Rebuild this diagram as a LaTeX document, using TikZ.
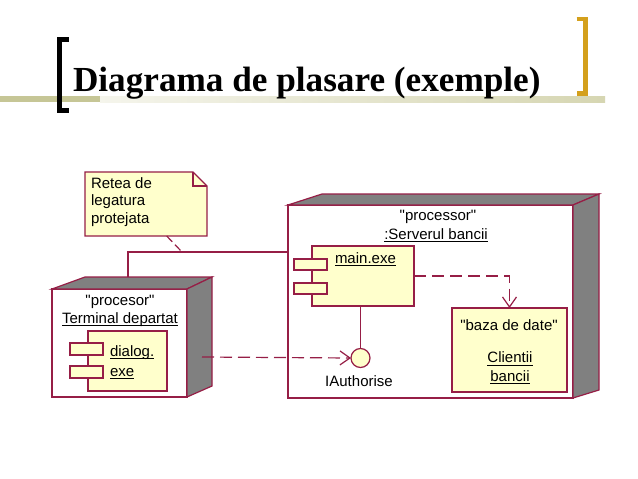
\documentclass[tikz,border=0pt]{standalone}
\usepackage{fontspec}
\setmainfont{Liberation Sans}
\newfontfamily\titlefont{Liberation Serif}
\usetikzlibrary{arrows.meta,calc}

\definecolor{edge}{RGB}{150,30,70}
\definecolor{paper}{RGB}{255,255,204}
\definecolor{side}{RGB}{128,128,128}
\definecolor{bardark}{RGB}{198,198,150}
\definecolor{barlight}{RGB}{214,214,178}
\definecolor{gold}{RGB}{212,160,28}

% straight double quote, taken from a font loaded without the TeX mapping
\font\straightq="Liberation Sans" at 15pt
\newcommand{\sq}{{\straightq\char34}}
% underlined text with a rule just below the baseline
\newcommand{\ulbox}[1]{\setbox0=\hbox{#1}\rlap{\rule[-2.8pt]{\wd0}{1pt}}\box0}

\begin{document}
\begin{tikzpicture}[x=1pt,y=-1pt,
  every node/.style={inner sep=0pt, outer sep=0pt},
  txt/.style={font=\fontsize{15}{17.5}\selectfont},
  face/.style={draw=edge, line width=1.2pt, fill=white},
  solid3d/.style={draw=edge, line width=1.2pt, fill=side, line join=miter},
  part/.style={draw=edge, line width=1.2pt, fill=paper},
  link/.style={draw=edge, line width=1.2pt},
  deplink/.style={draw=edge, line width=1.2pt, dash pattern=on 12pt off 6pt,
    -{Straight Barb[length=10pt,width=14pt]}},
]
\path[use as bounding box, fill=white] (0,0) rectangle (638,479);

% title band and brackets
\fill[bardark] (0,96) rectangle (100,102);
\shade[left color=barlight!25!white, right color=barlight] (100,96) rectangle (605,102);
\draw[line width=5pt, line join=miter] (68.5,39.2) -- (59.2,39.2) -- (59.2,110.8) -- (68.5,110.8);
\draw[gold, line width=4.6pt, line join=miter] (576.7,19) -- (585.5,19) -- (585.5,93.3) -- (576.7,93.3);
\node[anchor=base west, font=\titlefont\bfseries\fontsize{35.2}{40}\selectfont] (title) at (73,91)
  {Diagrama de plasare (exemple)};

% note
\node[anchor=north west, minimum width=122, minimum height=64] (note) at (85,172) {};
\draw[part] (note.north west) -- ($(note.north east)+(-14,0)$) -- ($(note.north east)+(0,14)$)
  -- (note.south east) -- (note.south west) -- cycle;
\draw[link] ($(note.north east)+(-14,0)$) -- ($(note.north east)+(-14,14)$) -- ($(note.north east)+(0,14)$);
\node[txt, anchor=north west, align=left] (notetext) at (91,177.5) {Retea de\\legatura\\protejata};

% terminal node
\node[face, anchor=north west, minimum width=135, minimum height=108] (term) at (52,289) {};
\draw[solid3d] (term.north west) -- (85,277) -- (212,277) -- (term.north east) -- cycle;
\draw[solid3d] (term.north east) -- (212,277) -- (212,386) -- (term.south east) -- cycle;
\node[txt, anchor=base] (termst) at (120,305.5) {\sq procesor\sq};
\node[txt, anchor=base] (termname) at (120,323.3) {\ulbox{Terminal departat}};

\node[part, anchor=north west, minimum width=79, minimum height=60] (dlg) at (88,331) {};
\node[part, anchor=north west, minimum width=33, minimum height=12] (dlgtab1) at (70,343) {};
\node[part, anchor=north west, minimum width=33, minimum height=12] (dlgtab2) at (70,366) {};
\node[txt, anchor=base west] (dlgname1) at (110,356.5) {\ulbox{dialog.}};
\node[txt, anchor=base west] (dlgname2) at (110,376.5) {\ulbox{exe}};

% server node
\node[face, anchor=north west, minimum width=285, minimum height=193] (srv) at (288,205) {};
\draw[solid3d] (srv.north west) -- (322,194) -- (599,194) -- (srv.north east) -- cycle;
\draw[solid3d] (srv.north east) -- (599,194) -- (599,390) -- (srv.south east) -- cycle;
\node[txt, anchor=base] (srvst) at (438,220.5) {\sq processor\sq};
\node[txt, anchor=base] (srvname) at (436,239.3) {\ulbox{:Serverul bancii}};

\node[part, anchor=north west, minimum width=102, minimum height=60] (mainexe) at (312,246) {};
\node[part, anchor=north west, minimum width=33, minimum height=11] (maintab1) at (294,259) {};
\node[part, anchor=north west, minimum width=33, minimum height=11] (maintab2) at (294,283) {};
\node[txt, anchor=base west] (mainname) at (335,263) {\ulbox{main.exe}};

\node[part, anchor=north west, minimum width=115, minimum height=84] (baza) at (452,308) {};
\node[txt, anchor=base] (bazast) at (509,330.7) {\sq baza de date\sq};
\node[txt, anchor=base] (bazaname1) at (510,362.7) {\ulbox{Clientii}};
\node[txt, anchor=base] (bazaname2) at (510,381) {\ulbox{bancii}};

% provided interface
\node[part, circle, minimum size=19] (iface) at (360.5,358) {};
\draw[link] (iface.north |- mainexe.south) -- (iface.north);
\node[txt, anchor=base] (ifacename) at (359,386.7) {IAuthorise};

% connections
\coordinate (netbend) at (128,252);
\coordinate (notelink) at (182,252);
\draw[link] (128,277) -- (netbend) -- (netbend -| srv.west);
\draw[draw=edge, line width=1.2pt, dash pattern=on 8pt off 4pt]
  ($(note.south west)+(81.7,0)$) -- (notelink);
\coordinate (termport) at (202,357);
\draw[deplink] (termport) -- (iface.west);
\draw[deplink] (mainexe.east) -| (baza.north);
\end{tikzpicture}
\end{document}
